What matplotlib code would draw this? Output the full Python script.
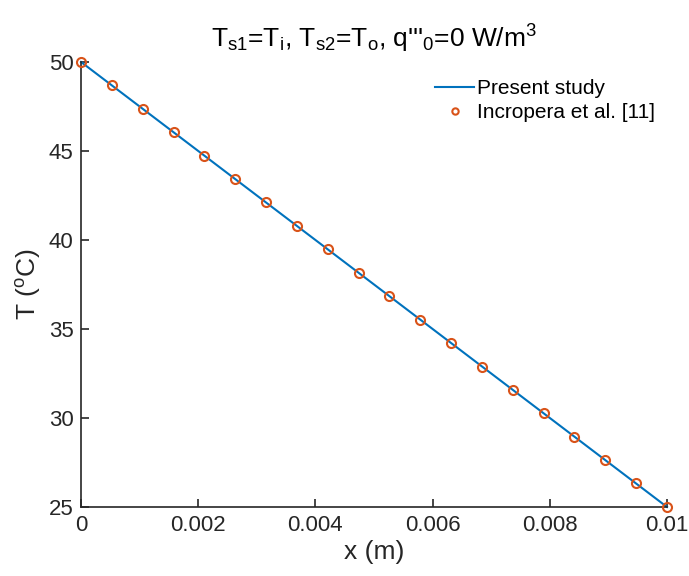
import numpy as np
import matplotlib
matplotlib.use("Agg")
import matplotlib.pyplot as plt

plt.rcParams['font.family'] = ['Liberation Sans', 'DejaVu Sans']
plt.rcParams['mathtext.fontset'] = 'custom'
plt.rcParams['mathtext.rm'] = 'Liberation Sans'
plt.rcParams['mathtext.it'] = 'Liberation Sans'
plt.rcParams['mathtext.default'] = 'regular'

# present study (line endpoints)
x_line = [0.0, 0.01]
T_line = [50.0, 25.0]

# Incropera et al. [11] points
x_ref = [0.0, 0.000526, 0.001053, 0.001579, 0.002105, 0.002632, 0.003158,
         0.003684, 0.004211, 0.004737, 0.005263, 0.005789, 0.006316,
         0.006842, 0.007368, 0.007895, 0.008421, 0.008947, 0.009474, 0.01]
T_ref = [50.0, 48.68, 47.37, 46.05, 44.74, 43.42, 42.11, 40.79, 39.47,
         38.16, 36.84, 35.53, 34.21, 32.89, 31.58, 30.26, 28.95, 27.63,
         26.32, 25.0]

xticks = [0, 0.002, 0.004, 0.006, 0.008, 0.01]
xticklabels = ['0', '0.002', '0.004', '0.006', '0.008', '0.01']
yticks = [25, 30, 35, 40, 45, 50]

axcol = '#262626'

fig = plt.figure(figsize=(6.89, 5.76), dpi=100)
ax = fig.add_axes([0.1176, 0.1198, 0.8505, 0.7726])

ax.plot(x_line, T_line, color='#0072BD', lw=1.5, label='Present study',
        clip_on=False)
ax.plot(x_ref, T_ref, 'o', mfc='none', mec='#D95319', mew=1.5, ms=6.5,
        label='Incropera et al. [11]', clip_on=False, zorder=3)

ax.set_xlim(0, 0.01)
ax.set_ylim(25, 50)
ax.set_xticks(xticks)
ax.set_xticklabels(xticklabels)
ax.set_yticks(yticks)

for s in ['top', 'right']:
    ax.spines[s].set_visible(False)
for s in ['left', 'bottom']:
    ax.spines[s].set_color(axcol)
    ax.spines[s].set_linewidth(1.2)
ax.tick_params(direction='in', length=6, width=1.2, colors=axcol,
               labelsize=16, pad=5.5)

ax.set_xlabel('x (m)', fontsize=19, color=axcol, labelpad=3)
ax.set_ylabel('T ($^{o}$C)', fontsize=19, color=axcol, labelpad=4)
ax.set_title("T$_{s1}$=T$_{i}$, T$_{s2}$=T$_{o}$, q'''$_{0}$=0 W/m$^{3}$",
             fontsize=19, color='black', pad=10)

ax.legend(loc='upper right', frameon=False, fontsize=15, handlelength=1.9,
          handletextpad=0.1, borderaxespad=0.2, labelspacing=0.25,
          markerscale=0.7, bbox_to_anchor=(1.0, 0.99))

fig.savefig('out.png', dpi=100)
